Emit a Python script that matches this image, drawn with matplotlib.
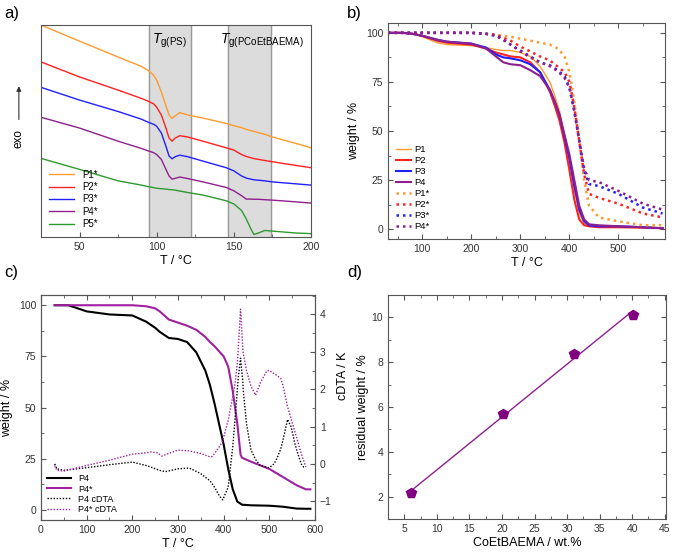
import numpy as np
import matplotlib
matplotlib.use('Agg')
import matplotlib.pyplot as plt
from matplotlib.ticker import MultipleLocator

plt.rcParams['font.family'] = ['Liberation Sans', 'DejaVu Sans']
plt.rcParams['mathtext.fontset'] = 'custom'
plt.rcParams['mathtext.rm'] = 'Liberation Sans'
plt.rcParams['mathtext.it'] = 'Liberation Sans:italic'
plt.rcParams['font.size'] = 7.5
plt.rcParams['axes.edgecolor'] = '#555555'
plt.rcParams['xtick.color'] = '#555555'
plt.rcParams['ytick.color'] = '#555555'
plt.rcParams['xtick.labelcolor'] = '#333333'
plt.rcParams['ytick.labelcolor'] = '#333333'

ORANGE = '#ff9a2e'
RED = '#ff2020'
BLUE = '#2020ff'
PURPLE = '#8e1f8e'
GREEN = '#2e9a2e'
MAGENTA = '#a020a0'

# ---- a) DSC ----
dsc_T = [25, 50, 75, 90, 95, 98, 100, 103, 106, 108, 110, 112, 115, 120, 130,
         145, 150, 155, 158, 161, 163, 166, 170, 175, 190, 200]
dsc_p1 = [100, 92.4, 84.9, 80.5, 78.3, 76.3, 74.0, 68.5, 61.8, 57.6, 55.9, 57.2, 58.7, 57.6, 56.1,
          53.6, 52.5, 51.6, 50.8, 50.2, 49.8, 49.2, 48.5, 47.2, 44.2, 42.1]
dsc_p2 = [82.6, 75.5, 69.3, 65.4, 63.9, 62.8, 61.2, 57.6, 51.4, 46.7, 45.2, 46.7, 47.8, 47.2, 45.2,
          42.1, 41.0, 38.9, 38.0, 37.4, 37.0, 36.6, 36.1, 35.5, 33.8, 32.7]
dsc_p3 = [70.6, 64.6, 59.2, 55.6, 54.0, 53.2, 52.2, 49.1, 42.8, 38.2, 36.9, 37.9, 38.6, 37.9, 35.8,
          32.7, 31.2, 28.8, 27.8, 27.3, 27.0, 26.8, 26.5, 26.0, 25.1, 24.5]
dsc_p4 = [56.5, 51.4, 45.2, 41.8, 40.5, 39.8, 38.9, 36.6, 31.9, 28.8, 27.3, 27.7, 28.3, 27.6, 26.0,
          23.4, 21.8, 19.5, 17.9, 17.9, 17.8, 17.8, 17.6, 17.4, 16.6, 16.0]
dsc_p5 = [37.1, 31.9, 26.5, 24.5, 23.7, 23.3, 23.0, 22.8, 22.6, 22.4, 22.3, 22.1, 21.7, 21.0, 19.8,
          17.1, 15.6, 12.5, 8.6, 3.9, 1.2, 1.9, 3.1, 2.8, 1.9, 1.6]

# ---- b) TGA ----
tga_T = [30, 60, 80, 100, 130, 150, 200, 230, 250, 265, 280, 300, 320, 340, 360, 370,
         380, 390, 400, 410, 420, 430, 440, 460, 500, 550, 590]
tga_p1 = [100, 100, 99.5, 98, 95, 94, 93.5, 92.5, 91.5, 91, 91, 90, 88, 83, 75, 68,
          60, 48, 35, 20, 8, 3, 1.5, 1, 1, 0.8, 0.5]
tga_p2 = [100, 100, 99.5, 98.5, 96, 95, 94, 92, 90, 89, 88, 87.5, 85, 80, 70, 63,
          55, 44, 30, 15, 5, 2, 1.5, 1, 1, 0.8, 0.5]
tga_p3 = [100, 100, 99.5, 98.5, 96.5, 95.5, 94.5, 92.5, 89, 87.5, 87, 86, 84, 80, 71, 65,
          58, 47, 36, 22, 10, 4, 2, 1.5, 1.5, 1, 0.5]
tga_p4 = [100, 100, 99.5, 98.5, 96.5, 95.5, 94.5, 92, 88, 85, 84, 83.5, 81, 78, 71, 65,
          58, 48, 38, 25, 12, 5, 2.5, 2, 1.5, 1, 0.5]
tga_p1s = [100, 100, 100, 100, 100, 100, 100, 99.5, 99, 98.5, 98, 97, 96, 95, 94, 93,
           91, 88, 80, 65, 45, 25, 12, 6, 4, 2, 2]
tga_p2s = [100, 100, 100, 100, 100, 100, 100, 99.5, 99, 97.5, 96, 93, 90.5, 88, 86, 84,
           82, 80, 75, 62, 45, 28, 18, 16, 13, 8, 6]
tga_p3s = [100, 100, 100, 100, 100, 100, 100, 99.5, 98.5, 96.5, 94, 91, 88, 85, 83.5, 82,
           80, 78, 72, 60, 45, 30, 23, 22, 18, 11, 8]
tga_p4s = [100, 100, 100, 100, 100, 100, 100, 99.5, 98.5, 96.5, 94, 90.5, 87.5, 85, 83, 81.5,
           79.5, 77, 72, 60, 45, 31, 25, 24, 19.5, 13, 10]

# ---- c) P4 vs P4* with cDTA ----
c_T = [30, 60, 80, 100, 150, 200, 230, 250, 260, 280, 300, 320, 340, 360, 370, 380, 390, 400,
       410, 420, 430, 437, 440, 460, 500, 530, 560, 580, 590]
c_p4 = [100, 100, 98.5, 97, 95.5, 95, 92, 89, 87, 84, 83.5, 82, 77, 68, 61, 52, 42, 32,
        20, 10, 4, 3, 2.5, 2.2, 2, 1.5, 0.6, 0.5, 0.5]
c_p4s = [100, 100, 100, 100, 100, 100, 99.5, 98.5, 97, 93, 91.5, 90, 88, 84.5, 82, 80, 77.5, 75,
         70, 58, 42, 27, 25.5, 23.5, 20, 16, 12, 10, 10]
cdta_T = [30, 35, 50, 100, 150, 200, 230, 240, 255, 265, 275, 300, 325, 350, 370, 375, 380, 390,
          395, 398, 410, 420, 425, 430, 432, 437, 442, 443, 450, 460, 470, 480, 495, 500, 510,
          515, 525, 530, 540, 548, 555, 560, 570, 575, 580]
cdta_p4 = [0.0, -0.13, -0.17, -0.1, -0.02, 0.05, -0.04, -0.08, -0.15, -0.19, -0.2, -0.13, -0.11,
           -0.26, -0.45, -0.53, -0.62, -0.84, -0.92, -0.96, -0.62, 0.46, 1.2, 1.98, 2.3, 2.83,
           2.2, 1.98, 1.08, 0.37, 0.12, -0.04, -0.09, -0.1, 0.0, 0.1, 0.4, 0.64, 1.19, 0.99,
           0.6, 0.37, 0.0, -0.08, -0.08]
cdta_p4s = [-0.04, -0.17, -0.19, -0.04, 0.1, 0.26, 0.3, 0.32, 0.3, 0.21, 0.26, 0.37, 0.35,
            0.28, 0.19, 0.2, 0.28, 0.45, 0.55, 0.62, 1.17, 1.8, 2.15, 2.7, 3.1, 4.14, 3.1, 2.95,
            2.5, 2.08, 1.84, 2.16, 2.5, 2.5, 2.42, 2.38, 2.29, 2.1, 1.53, 1.2, 0.9, 0.7, 0.28,
            0.1, -0.08]

# ---- d) residual weight ----
coet = [6.1, 20.1, 31.1, 40.1]
residual = [2.15, 5.7, 8.37, 10.1]

fig = plt.figure(figsize=(6.74, 5.56), dpi=100)
ax_a = fig.add_axes([0.0608, 0.5737, 0.4006, 0.3813])
ax_b = fig.add_axes([0.5757, 0.5701, 0.4110, 0.3885])
ax_c = fig.add_axes([0.0608, 0.0647, 0.4065, 0.4047])
ax_d = fig.add_axes([0.5757, 0.0665, 0.4125, 0.4029])


def style(ax, top=True, right=True):
    ax.tick_params(which='both', direction='in', top=top, right=right, labelsize=7.5)
    ax.tick_params(which='major', length=3.5, width=0.8)
    ax.tick_params(which='minor', length=2, width=0.6)
    for s in ax.spines.values():
        s.set_linewidth(0.8)


# a)
ax_a.axvspan(95, 122, color='#dcdcdc', zorder=0)
ax_a.axvspan(146, 174, color='#dcdcdc', zorder=0)
for xv in [95, 122, 146, 174]:
    ax_a.axvline(xv, color='#9a9a9a', lw=1.0, zorder=0.5)
for y, c, lab in zip([dsc_p1, dsc_p2, dsc_p3, dsc_p4, dsc_p5],
                     [ORANGE, RED, BLUE, PURPLE, GREEN],
                     ['P1*', 'P2*', 'P3*', 'P4*', 'P5*']):
    ax_a.plot(dsc_T, y, color=c, lw=1.0, label=lab)
ax_a.set_xlim(25, 200)
ax_a.set_ylim(0, 100)
ax_a.set_yticks([])
ax_a.xaxis.set_major_locator(MultipleLocator(50))
ax_a.xaxis.set_minor_locator(MultipleLocator(25))
style(ax_a, top=False, right=False)
ax_a.set_xlabel('T / °C', fontsize=9, labelpad=2)
ax_a.text(108.5, 97, r'$T_{\rm g(PS)}$', ha='center', va='top', fontsize=10)
ax_a.text(168, 97, r'$T_{\rm g(PCoEtBAEMA)}$', ha='center', va='top', fontsize=10)
ax_a.legend(loc='lower left', frameon=False, fontsize=7, handlelength=2.6,
            labelspacing=0.25, borderaxespad=0.4, bbox_to_anchor=(0.0, 0.0))
fig.text(0.028, 0.75, 'exo', rotation=90, ha='center', va='center', fontsize=8.5)
fig.add_artist(matplotlib.patches.FancyArrowPatch(
    (0.028, 0.78), (0.028, 0.85), transform=fig.transFigure,
    arrowstyle='-|>', mutation_scale=7, lw=0.8, color='#333333'))

# b)
for y, c, lw, lab in zip([tga_p1, tga_p2, tga_p3, tga_p4],
                         [ORANGE, RED, BLUE, PURPLE], [1.0, 1.5, 1.5, 1.5],
                         ['P1', 'P2', 'P3', 'P4']):
    ax_b.plot(tga_T, y, color=c, lw=lw, label=lab)
for y, c, lab in zip([tga_p1s, tga_p2s, tga_p3s, tga_p4s],
                     [ORANGE, RED, BLUE, PURPLE], ['P1*', 'P2*', 'P3*', 'P4*']):
    ax_b.plot(tga_T, y, color=c, lw=1.8, ls=(0, (1, 1.6)), label=lab)
ax_b.set_xlim(30, 595)
ax_b.set_ylim(-5, 105)
ax_b.xaxis.set_major_locator(MultipleLocator(100))
ax_b.xaxis.set_minor_locator(MultipleLocator(50))
ax_b.yaxis.set_major_locator(MultipleLocator(25))
ax_b.yaxis.set_minor_locator(MultipleLocator(12.5))
style(ax_b)
ax_b.set_xlabel('T / °C', fontsize=9, labelpad=2)
ax_b.set_ylabel('weight / %', fontsize=9, labelpad=4)
ax_b.legend(loc='lower left', frameon=False, fontsize=6.8, handlelength=1.6,
            handletextpad=0.4, labelspacing=0.22, borderaxespad=0.4,
            bbox_to_anchor=(0.0, 0.0))

# c)
ax_c.plot(c_T, c_p4, color='black', lw=1.5, label='P4')
ax_c.plot(c_T, c_p4s, color=MAGENTA, lw=1.5, label='P4*')
ax_c2 = ax_c.twinx()
ax_c2.plot(cdta_T, cdta_p4, color='black', lw=1.0, ls=(0, (1, 1.2)), label='P4 cDTA')
ax_c2.plot(cdta_T, cdta_p4s, color=MAGENTA, lw=1.0, ls=(0, (1, 1.2)), label='P4* cDTA')
ax_c.set_xlim(0, 600)
ax_c.set_ylim(-5, 105)
ax_c2.set_ylim(-1.5, 4.52)
ax_c.xaxis.set_major_locator(MultipleLocator(100))
ax_c.xaxis.set_minor_locator(MultipleLocator(50))
ax_c.yaxis.set_major_locator(MultipleLocator(25))
ax_c.yaxis.set_minor_locator(MultipleLocator(12.5))
ax_c2.yaxis.set_major_locator(MultipleLocator(1))
ax_c2.yaxis.set_minor_locator(MultipleLocator(0.5))
style(ax_c, top=True, right=False)
ax_c2.tick_params(which='both', direction='in', labelsize=7.5)
ax_c2.tick_params(which='major', length=3.5, width=0.8)
ax_c2.tick_params(which='minor', length=2, width=0.6)
ax_c.set_xlabel('T / °C', fontsize=9, labelpad=2)
ax_c.set_ylabel('weight / %', fontsize=9, labelpad=4)
ax_c2.set_ylabel('cDTA / K', fontsize=9)
ax_c2.yaxis.set_label_coords(1.08, 0.64)
h1, l1 = ax_c.get_legend_handles_labels()
h2, l2 = ax_c2.get_legend_handles_labels()
ax_c2.legend(h1 + h2, l1 + l2, loc='lower left', frameon=False, fontsize=6.5,
             handlelength=2.6, labelspacing=0.12, borderaxespad=0.3)

# d)
fit = np.polyfit(coet, residual, 1)
xf = np.array([coet[0], coet[-1]])
ax_d.plot(xf, np.polyval(fit, xf), color=PURPLE, lw=1.0)
ax_d.plot(coet, residual, ls='none', marker='p', ms=7.5, color='#800080')
ax_d.set_xlim(2.5, 45.2)
ax_d.set_ylim(1, 11)
ax_d.xaxis.set_major_locator(MultipleLocator(5))
ax_d.xaxis.set_minor_locator(MultipleLocator(2.5))
ax_d.yaxis.set_major_locator(MultipleLocator(2))
ax_d.yaxis.set_minor_locator(MultipleLocator(1))
style(ax_d)
ax_d.set_xlabel('CoEtBAEMA / wt.%', fontsize=9, labelpad=2)
ax_d.set_ylabel('residual weight / %', fontsize=9, labelpad=2)

# panel letters
fig.text(0.006, 0.975, 'a)', fontsize=12, va='center')
fig.text(0.515, 0.975, 'b)', fontsize=12, va='center')
fig.text(0.006, 0.51, 'c)', fontsize=12, va='center')
fig.text(0.515, 0.51, 'd)', fontsize=12, va='center')

fig.savefig('out.png', dpi=100)
